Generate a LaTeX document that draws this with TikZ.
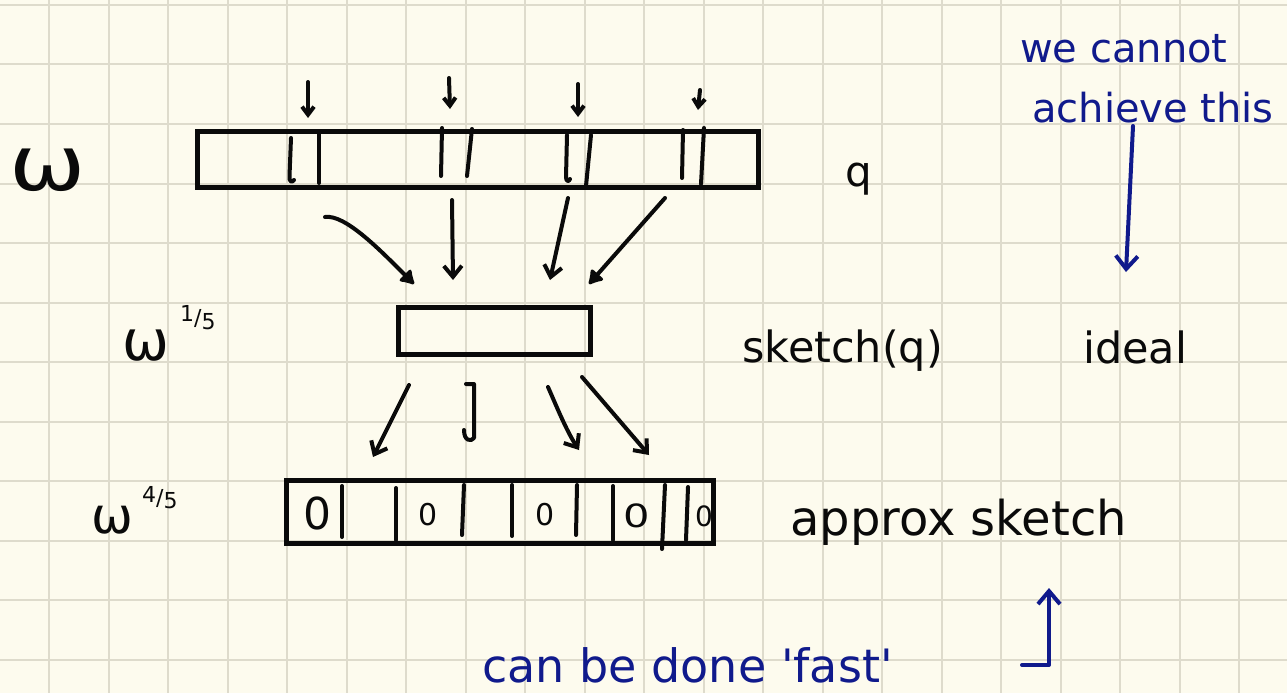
\documentclass[tikz,border=0pt]{standalone}
\usepackage{fontspec}
\setmainfont{DejaVu Sans}
\usetikzlibrary{arrows.meta}
\definecolor{paper}{RGB}{253,251,238}
\definecolor{gridc}{RGB}{222,219,204}
\definecolor{ink}{RGB}{10,10,10}
\definecolor{blueink}{RGB}{16,26,140}
\begin{document}
\begin{tikzpicture}[x=1pt,y=-1pt,
  pen/.style={line width=4pt,line cap=round,line join=round,draw=ink},
  bpen/.style={pen,draw=blueink},
  gridline/.style={draw=gridc,line width=2pt},
  boxstyle/.style={draw=ink,line width=5pt,inner sep=0pt,rectangle},
  barb/.style={pen,-{Straight Barb[length=11pt,width=18pt]}},
  smallbarb/.style={pen,-{Straight Barb[length=8pt,width=12pt]}},
  blob/.style={pen,-{Latex[length=16pt,width=20pt,round]}},
  bbarb/.style={bpen,-{Straight Barb[length=13pt,width=22pt]}},
  txt/.style={inner sep=0pt,text=ink},
  btxt/.style={inner sep=0pt,text=blueink},
  zero/.style={inner sep=0pt,text=ink,anchor=center}
]
\useasboundingbox (0,0) rectangle (1287,693);
\fill[paper] (0,0) rectangle (1287,693);
% grid
\foreach \i in {0,...,20} \draw[gridline] ({49+59.5*\i},0) -- ({49+59.5*\i},693);
\foreach \j in {0,...,11} \draw[gridline] (0,{5+59.5*\j}) -- (1287,{5+59.5*\j});

% ---- labels on the left
\node[txt,anchor=base,font=\fontsize{76}{78}\selectfont] (w0) at (48,190) {\scalebox{1.2}[1]{ω}};
\node[txt,anchor=base,font=\fontsize{56}{58}\selectfont] (w1) at (146,360) {ω};
\node[txt,anchor=base west,font=\fontsize{22}{24}\selectfont] (e1) at (180,325) {\raisebox{4pt}{1}/\raisebox{-4pt}{5}};
\node[txt,anchor=base,font=\fontsize{50}{52}\selectfont] (w2) at (112,533) {ω};
\node[txt,anchor=base west,font=\fontsize{22}{24}\selectfont] (e2) at (142,505) {\raisebox{3pt}{4}/\raisebox{-3pt}{5}};

% ---- top box
\node[boxstyle,minimum width=561pt,minimum height=56pt] (top) at (477.5,159) {};
\draw[pen] (291,138) -- (289.5,176) .. controls (289,182) and (292,183) .. (294,180);
\draw[pen] (319,134) -- (319,183);
\draw[pen] (442,128) -- (441,176);
\draw[pen] (472,129) -- (467,176);
\draw[pen] (567,135) -- (566,177) .. controls (566,182) and (569,182) .. (570,179);
\draw[pen] (591,135) -- (586,186);
\draw[pen] (683,130) -- (682,178);
\draw[pen] (704,128) -- (701,184);
% small arrows above
\coordinate (s1a) at (308,82);  \coordinate (s1b) at (308,118);
\coordinate (s2a) at (449,78);  \coordinate (s2b) at (450,109);
\coordinate (s3a) at (578,84);  \coordinate (s3b) at (578,117);
\coordinate (s4a) at (700,90);  \coordinate (s4b) at (698,110);
\draw[smallbarb] (s1a) -- (s1b);
\draw[smallbarb] (s2a) -- (s2b);
\draw[smallbarb] (s3a) -- (s3b);
\draw[smallbarb] (s4a) -- (s4b);
\node[txt,anchor=base west,font=\fontsize{42}{44}\selectfont] (q) at (845,186) {q};

% ---- middle box
\node[boxstyle,minimum width=192pt,minimum height=47pt] (mid) at (494.5,331) {};
\coordinate (a1s) at (325,217); \coordinate (a1e) at (414,284);
\coordinate (a2s) at (452,200); \coordinate (a2e) at (453,280);
\coordinate (a3s) at (568,198); \coordinate (a3e) at (550,280);
\coordinate (a4s) at (665,198); \coordinate (a4e) at (589,284);
\draw[blob] (a1s) .. controls (345,214) and (380,250) .. (a1e);
\draw[barb] (a2s) -- (a2e);
\draw[barb] (a3s) -- (a3e);
\draw[blob] (a4s) -- (a4e);
\node[txt,anchor=base west,font=\fontsize{43}{45}\selectfont] (sk) at (742,362) {sketch(q)};
\node[txt,anchor=base west,font=\fontsize{43}{45}\selectfont] (ideal) at (1083,363) {ideal};

% ---- arrows middle -> bottom
\coordinate (b1s) at (409,385); \coordinate (b1e) at (373,457);
\coordinate (b3s) at (548,387); \coordinate (b3e) at (579,450);
\coordinate (b4s) at (582,377); \coordinate (b4e) at (649,455);
\draw[barb] (b1s) -- (b1e);
\draw[pen] (466,384) -- (474,384) -- (474,438) .. controls (471,442) and (464,441) .. (464,430);
\draw[barb] (b3s) .. controls (556,405) and (566,430) .. (b3e);
\draw[barb] (b4s) -- (b4e);

% ---- bottom box
\node[boxstyle,minimum width=427pt,minimum height=63pt] (bot) at (499.5,511.5) {};
\draw[pen] (342,486) -- (342,537);
\draw[pen] (396,488) -- (396,540);
\draw[pen] (464,485) -- (462,535);
\draw[pen] (512,485) -- (512,536);
\draw[pen] (577,485) -- (576,535);
\draw[pen] (613,486) -- (613,540);
\draw[pen] (665,485) -- (662,549);
\draw[pen] (688,487) -- (686,540);
\node[zero,font=\fontsize{44}{46}\selectfont] (z1) at (317,513) {0};
\node[zero,font=\fontsize{30}{32}\selectfont] (z2) at (428,515) {0};
\node[zero,font=\fontsize{30}{32}\selectfont] (z3) at (545,515) {0};
\node[zero,font=\fontsize{32}{34}\selectfont] (z4) at (637,516) {\scalebox{1.3}[1]{0}};
\node[zero,font=\fontsize{28}{30}\selectfont] (z5) at (704,516) {0};
\node[txt,anchor=base west,font=\fontsize{48}{50}\selectfont] (ap) at (790,535) {approx sketch};

% ---- blue annotations
\node[btxt,anchor=base west,font=\fontsize{40}{42}\selectfont] (wc) at (1020,63) {we cannot};
\node[btxt,anchor=base west,font=\fontsize{40}{42}\selectfont] (ach) at (1032,122) {achieve this};
\coordinate (c1) at (1133,126); \coordinate (c2) at (1126,272);
\draw[bbarb] (c1) -- (c2);
\node[btxt,anchor=base west,font=\fontsize{46}{48}\selectfont] (fast) at (482,682) {can be done \textquotesingle fast\textquotesingle};
\coordinate (f1) at (1022,665); \coordinate (f2) at (1049,665); \coordinate (f3) at (1049,588);
\draw[bbarb] (f1) -- (f2) -- (f3);
\end{tikzpicture}
\end{document}
